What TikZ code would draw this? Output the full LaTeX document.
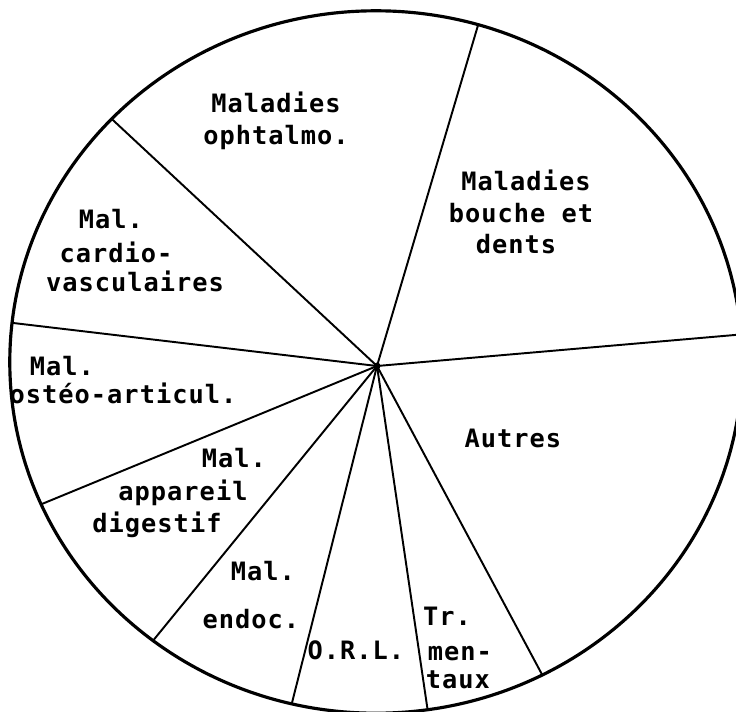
\documentclass[tikz,border=0pt]{standalone}
\usepackage{fontspec}
\setmainfont{DejaVu Sans Mono}[LetterSpace=4]
\usetikzlibrary{calc}

\begin{document}
\begin{tikzpicture}[x=0.01cm,y=-0.01cm,
    rim/.style={line width=0.9pt},
    spoke/.style={line width=0.55pt},
    lbl/.style={anchor=base,inner sep=0pt,font=\fontsize{7.2}{9}\selectfont\bfseries}]

    \useasboundingbox (0,0) rectangle (736,712);
    \coordinate (c) at (376,362);
    \coordinate (hub) at (377,366);
    \draw[rim] (c) ellipse [x radius=3.66cm, y radius=3.51cm];

    % rim points of the sector borders
    \foreach \a/\n in {4.5/s1,73.8/s2,136.2/s3,173.6/s4,203.9/s5,232.5/s6,256.7/s7,278.1/s8,297/s9}
        \coordinate (\n) at ($(c)+(\a:3.66cm and 3.51cm)$);
    \foreach \n in {s1,s2,s3,s4,s5,s6,s7,s8,s9}
        \draw[spoke] (hub) -- (\n);
    \fill (hub) circle [radius=0.035cm];

    \node[lbl] (oph1) at (276,113) {Maladies};
    \node[lbl] (oph2) at (276,144) {ophtalmo.};
    \node[lbl] (bou1) at (526,190) {Maladies};
    \node[lbl] (bou2) at (521,222) {bouche et};
    \node[lbl] (bou3) at (516,253) {dents};
    \node[lbl] (car1) at (111,228) {Mal.};
    \node[lbl] (car2) at (116,262) {cardio-};
    \node[lbl] (car3) at (135,291) {vasculaires};
    \node[lbl] (ost1) at (62,375) {Mal.};
    \node[lbl] (ost2) at (123,403) {ostéo-articul.};
    \node[lbl] (dig1) at (234,467) {Mal.};
    \node[lbl] (dig2) at (183,500) {appareil};
    \node[lbl] (dig3) at (157,532) {digestif};
    \node[lbl] (end1) at (263,580) {Mal.};
    \node[lbl] (end2) at (251,628) {endoc.};
    \node[lbl] (orl) at (356,659) {O.R.L.};
    \node[lbl] (men1) at (447,625) {Tr.};
    \node[lbl] (men2) at (460,660) {men-};
    \node[lbl] (men3) at (458,688) {taux};
    \node[lbl] (aut) at (513,447) {Autres};

\end{tikzpicture}
\end{document}
